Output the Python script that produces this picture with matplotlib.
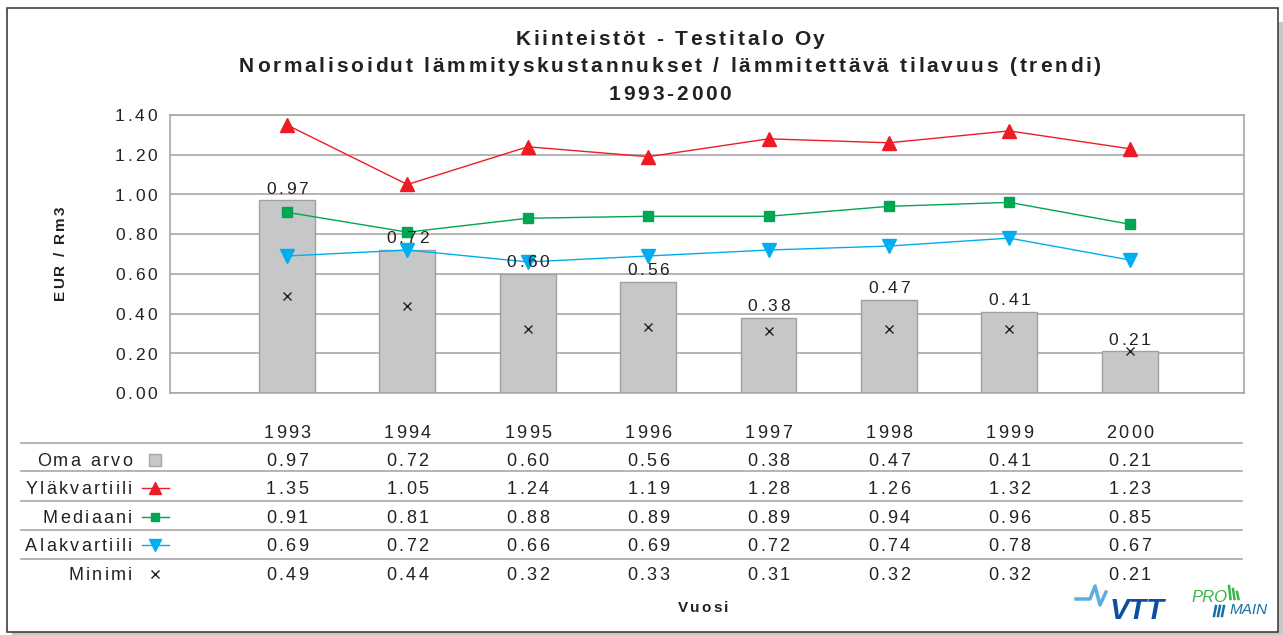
import matplotlib.pyplot as plt
from matplotlib.patches import Rectangle
from matplotlib.lines import Line2D
from matplotlib.font_manager import FontProperties
from matplotlib.textpath import TextToPath

plt.rcParams['font.family'] = ['Liberation Sans', 'DejaVu Sans']

years = ['1993', '1994', '1995', '1996', '1997', '1998', '1999', '2000']
oma_arvo = [0.97, 0.72, 0.60, 0.56, 0.38, 0.47, 0.41, 0.21]
ylakvartiili = [1.35, 1.05, 1.24, 1.19, 1.28, 1.26, 1.32, 1.23]
mediaani = [0.91, 0.81, 0.88, 0.89, 0.89, 0.94, 0.96, 0.85]
alakvartiili = [0.69, 0.72, 0.66, 0.69, 0.72, 0.74, 0.78, 0.67]
minimi = [0.49, 0.44, 0.32, 0.33, 0.31, 0.32, 0.32, 0.21]
yticks = [0, 0.2, 0.4, 0.6, 0.8, 1.0, 1.2, 1.4]

W, H = 1283, 635
DPI = 100
fig = plt.figure(figsize=(W / DPI, H / DPI), dpi=DPI)
ttp = TextToPath()
TXT = '#222222'


def fx(px):
    return px / W


def fy(py):
    return 1 - py / H


def adv(ch, fp):
    # advance width of one char in pixels
    w1 = ttp.get_text_width_height_descent('H' + ch + 'H', fp, ismath=False)[0]
    w0 = ttp.get_text_width_height_descent('HH', fp, ismath=False)[0]
    return (w1 - w0) * DPI / 72


def spaced(xpx, ypx, s, size, track, ha='center', weight='normal', rotate=False):
    # text with letter spacing, placed char by char (pixel coords from top-left)
    fp = FontProperties(family='Liberation Sans', size=size, weight=weight)
    advs = [adv(c, fp) for c in s]
    total = sum(advs) + track * (len(s) - 1)
    pos = {'center': -total / 2, 'right': -total, 'left': 0}[ha]
    half_cap = 0.358 * size * DPI / 72
    for c, a in zip(s, advs):
        mid = pos + a / 2
        if c != ' ':
            if rotate:
                fig.text(fx(xpx + half_cap), fy(ypx - mid), c, fontproperties=fp,
                         rotation=90, rotation_mode='anchor', ha='center',
                         va='baseline', color=TXT)
            else:
                fig.text(fx(xpx + mid), fy(ypx + half_cap), c, fontproperties=fp,
                         ha='center', va='baseline', color=TXT)
        pos += a + track


# frame with shadow
fig.patches.append(Rectangle((fx(12), fy(637)), fx(1271), fy(22) - fy(637),
                             transform=fig.transFigure, facecolor='#c8c8c8',
                             edgecolor='none', zorder=0))
fig.patches.append(Rectangle((fx(7), fy(632)), fx(1271), fy(8) - fy(632),
                             transform=fig.transFigure, facecolor='white',
                             edgecolor='#404040', linewidth=1.2, zorder=1))

ax = fig.add_axes([fx(170), fy(393), fx(1244) - fx(170), fy(115) - fy(393)])
ax.set_zorder(2)
x = list(range(len(years)))

ax.bar(x, oma_arvo, width=0.465, color='#c6c7c8', edgecolor='#a0a0a0',
       linewidth=1, zorder=2)
ax.plot(x, ylakvartiili, color='#ed1c24', lw=1, marker='^', ms=10, zorder=4)
ax.plot(x, mediaani, color='#00a651', lw=1, marker='s', ms=7, zorder=4)
ax.plot(x, alakvartiili, color='#00aeef', lw=1, marker='v', ms=10, zorder=4)
ax.plot(x, minimi, color=TXT, lw=0, marker='x', ms=6, mew=1, zorder=4)

ax.set_xlim(-0.972, 7.95)
ax.set_ylim(0, 1.4)
ax.set_yticks(yticks)
ax.set_yticklabels([])
ax.tick_params(axis='y', length=0)
ax.set_xticks([])
ax.grid(True, axis='y', color='#a8a8a8', linewidth=1.2, zorder=0)
ax.set_axisbelow(True)
for s in ax.spines.values():
    s.set_color('#a8a8a8')
    s.set_linewidth(1.2)


def px_of(xv, yv):
    dx, dy = ax.transData.transform((xv, yv))
    return dx, H - dy


# tick labels
for t in yticks:
    _, py = px_of(0, t)
    spaced(157, py, f'{t:.2f}', 12.5, 2.7, ha='right')

# value labels above bars
for xi, v in zip(x, oma_arvo):
    px, py = px_of(xi, v)
    spaced(px, py - 13, f'{v:.2f}', 12.5, 2.7)

spaced(59, 253, 'EUR / Rm3', 11, 1.9, weight='bold', rotate=True)

spaced(670, 38, 'Kiinteistöt - Testitalo Oy', 15, 2.8, weight='bold')
spaced(670, 65, 'Normalisoidut lämmityskustannukset / lämmitettävä tilavuus (trendi)',
       15, 2.8, weight='bold')
spaced(670, 93, '1993-2000', 15, 2.8, weight='bold')

# data table below chart
for xi, yr in zip(x, years):
    spaced(px_of(xi, 0)[0], 432, yr, 13, 2.3)

rows = [('Oma arvo', oma_arvo), ('Yläkvartiili', ylakvartiili),
        ('Mediaani', mediaani), ('Alakvartiili', alakvartiili),
        ('Minimi', minimi)]
row_y = [460, 488, 517, 545, 574]
sep_y = [443, 471, 501, 530, 559]
for sy in sep_y:
    fig.add_artist(Line2D([fx(21), fx(1242)], [fy(sy), fy(sy)],
                          transform=fig.transFigure, color='#a8a8a8', lw=1.2))

keys = [dict(marker='s', color='#c6c7c8', ms=8, lw=0, mec='#a8a8a8'),
        dict(marker='^', color='#ed1c24', ms=9, lw=1),
        dict(marker='s', color='#00a651', ms=6, lw=1),
        dict(marker='v', color='#00aeef', ms=9, lw=1),
        dict(marker='x', color=TXT, ms=6, lw=0, mew=1)]
for (name, vals), ry, key in zip(rows, row_y, keys):
    spaced(132, ry, name, 13, 2.3, ha='right')
    if key['lw'] > 0:
        fig.add_artist(Line2D([fx(142), fx(169)], [fy(ry), fy(ry)],
                              transform=fig.transFigure, color=key['color'],
                              lw=1))
    fig.add_artist(Line2D([fx(155)], [fy(ry)], transform=fig.transFigure,
                          marker=key['marker'], color=key['color'],
                          ms=key['ms'], lw=0, mew=key.get('mew', 1),
                          mec=key.get('mec', key['color'])))
    for xi, v in zip(x, vals):
        spaced(px_of(xi, 0)[0], ry, f'{v:.2f}', 13, 2.3)

spaced(703, 607, 'Vuosi', 11, 2.0, weight='bold')

# logos
fig.add_artist(Line2D([fx(1076), fx(1090), fx(1095), fx(1100), fx(1106)],
                      [fy(599), fy(599), fy(586), fy(605), fy(592)],
                      transform=fig.transFigure, color='#5aaee0', lw=2.5))
fig.text(fx(1137), fy(611), 'VTT', ha='center', va='center', fontsize=21,
         fontweight='bold', fontstyle='italic', color='#0b4ea2')
fig.text(fx(1191), fy(598), 'PRO', ha='left', va='center', fontsize=12,
         fontstyle='italic', color='#39b54a')
fig.text(fx(1230), fy(610), 'MAIN', ha='left', va='center', fontsize=11,
         fontstyle='italic', color='#1a6fa8')
for bx, top in [(1229, 586), (1233, 589), (1237, 592)]:
    fig.add_artist(Line2D([fx(bx), fx(bx + 1.5)], [fy(top), fy(599)],
                          transform=fig.transFigure, color='#39b54a', lw=1.8))
for bx in [1216, 1220, 1224]:
    fig.add_artist(Line2D([fx(bx), fx(bx - 2)], [fy(606), fy(616)],
                          transform=fig.transFigure, color='#1a6fa8', lw=1.8))

fig.savefig('out.png', dpi=DPI)
